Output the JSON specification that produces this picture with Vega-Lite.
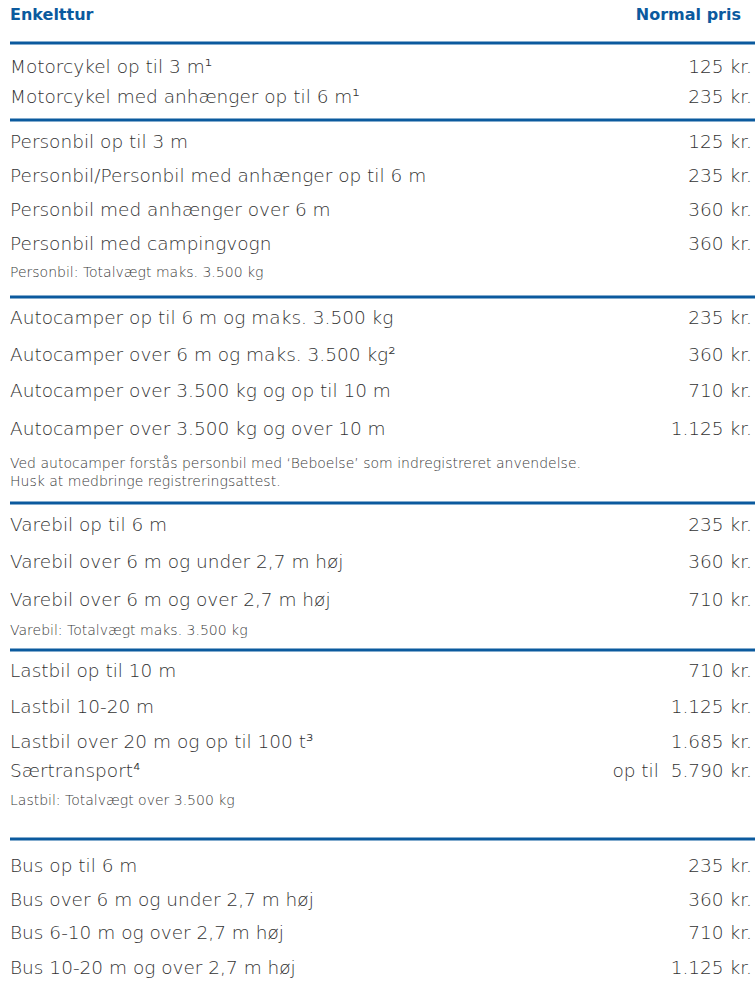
{
  "$schema": "https://vega.github.io/schema/vega-lite/v6.json",
  "width": 755,
  "height": 988,
  "autosize": {"type": "fit", "contains": "padding"},
  "padding": 0,
  "background": "white",
  "config": {"view": {"stroke": null}},
  "datasets": {
    "items": [
      {"row": 67, "label": "Motorcykel op til 3 m¹", "price": "125 kr."},
      {"row": 97, "label": "Motorcykel med anhænger op til 6 m¹", "price": "235 kr."},
      {"row": 142, "label": "Personbil op til 3 m", "price": "125 kr."},
      {"row": 176, "label": "Personbil/Personbil med anhænger op til 6 m", "price": "235 kr."},
      {"row": 210, "label": "Personbil med anhænger over 6 m", "price": "360 kr."},
      {"row": 244, "label": "Personbil med campingvogn", "price": "360 kr."},
      {"row": 318, "label": "Autocamper op til 6 m og maks. 3.500 kg", "price": "235 kr."},
      {"row": 355, "label": "Autocamper over 6 m og maks. 3.500 kg²", "price": "360 kr."},
      {"row": 391, "label": "Autocamper over 3.500 kg og op til 10 m", "price": "710 kr."},
      {"row": 429, "label": "Autocamper over 3.500 kg og over 10 m", "price": "1.125 kr."},
      {"row": 525, "label": "Varebil op til 6 m", "price": "235 kr."},
      {"row": 562, "label": "Varebil over 6 m og under 2,7 m høj", "price": "360 kr."},
      {"row": 600, "label": "Varebil over 6 m og over 2,7 m høj", "price": "710 kr."},
      {"row": 671, "label": "Lastbil op til 10 m", "price": "710 kr."},
      {"row": 707, "label": "Lastbil 10-20 m", "price": "1.125 kr."},
      {"row": 742, "label": "Lastbil over 20 m og op til 100 t³", "price": "1.685 kr."},
      {"row": 771, "label": "Særtransport⁴", "price": "op til\u00a0\u00a05.790 kr."},
      {"row": 866, "label": "Bus op til 6 m", "price": "235 kr."},
      {"row": 900, "label": "Bus over 6 m og under 2,7 m høj", "price": "360 kr."},
      {"row": 933, "label": "Bus 6-10 m og over 2,7 m høj", "price": "710 kr."},
      {"row": 968, "label": "Bus 10-20 m og over 2,7 m høj", "price": "1.125 kr."}
    ],
    "notes": [
      {"row": 273, "text": "Personbil: Totalvægt maks. 3.500 kg", "style": "italic"},
      {"row": 464, "text": "Ved autocamper forstås personbil med ‘Beboelse’ som indregistreret anvendelse.", "style": "italic"},
      {"row": 482, "text": "Husk at medbringe registreringsattest.", "style": "italic"},
      {"row": 631, "text": "Varebil: Totalvægt maks. 3.500 kg", "style": "italic"},
      {"row": 801, "text": "Lastbil: Totalvægt over 3.500 kg", "style": "normal"}
    ],
    "lines": [
      {"row": 43}, {"row": 120}, {"row": 297}, {"row": 503}, {"row": 650}, {"row": 839}
    ],
    "header": [
      {"row": 15, "left": "Enkelttur", "right": "Normal pris"}
    ]
  },
  "layer": [
    {
      "data": {"name": "lines"},
      "mark": {"type": "rule", "stroke": "#0b5a9e", "strokeWidth": 3},
      "encoding": {
        "y": {"field": "row", "type": "quantitative", "scale": {"domain": [0, 988], "reverse": true, "nice": false, "zero": false}, "axis": null},
        "x": {"datum": 0, "type": "quantitative", "scale": {"domain": [0, 745], "range": [10, 755], "nice": false, "zero": false}, "axis": null},
        "x2": {"datum": 745}
      }
    },
    {
      "data": {"name": "header"},
      "mark": {"type": "text", "align": "left", "baseline": "middle", "font": "DejaVu Sans", "fontSize": 16, "fontWeight": "bold", "fill": "#0b5a9e"},
      "encoding": {
        "y": {"field": "row", "type": "quantitative"},
        "x": {"datum": 0, "type": "quantitative"},
        "text": {"field": "left"}
      }
    },
    {
      "data": {"name": "header"},
      "mark": {"type": "text", "align": "right", "baseline": "middle", "font": "DejaVu Sans", "fontSize": 16, "fontWeight": "bold", "fill": "#0b5a9e"},
      "encoding": {
        "y": {"field": "row", "type": "quantitative"},
        "x": {"datum": 731, "type": "quantitative"},
        "text": {"field": "right"}
      }
    },
    {
      "data": {"name": "items"},
      "mark": {"type": "text", "align": "left", "baseline": "middle", "font": "DejaVu Sans", "fontSize": 18.5, "fontWeight": 200, "fill": "#333333"},
      "encoding": {
        "y": {"field": "row", "type": "quantitative"},
        "x": {"datum": 0, "type": "quantitative"},
        "text": {"field": "label"}
      }
    },
    {
      "data": {"name": "items"},
      "mark": {"type": "text", "align": "right", "baseline": "middle", "font": "DejaVu Sans", "fontSize": 18.5, "fontWeight": 200, "fill": "#333333"},
      "encoding": {
        "y": {"field": "row", "type": "quantitative"},
        "x": {"datum": 742, "type": "quantitative"},
        "text": {"field": "price"}
      }
    },
    {
      "data": {"name": "notes"},
      "mark": {"type": "text", "align": "left", "baseline": "middle", "font": "DejaVu Sans", "fontSize": 14, "fontWeight": 200, "fill": "#3a3a3a"},
      "encoding": {
        "y": {"field": "row", "type": "quantitative"},
        "x": {"datum": 0, "type": "quantitative"},
        "text": {"field": "text"},
        "fontStyle": {"field": "style", "type": "nominal", "scale": null, "legend": null}
      }
    }
  ]
}
